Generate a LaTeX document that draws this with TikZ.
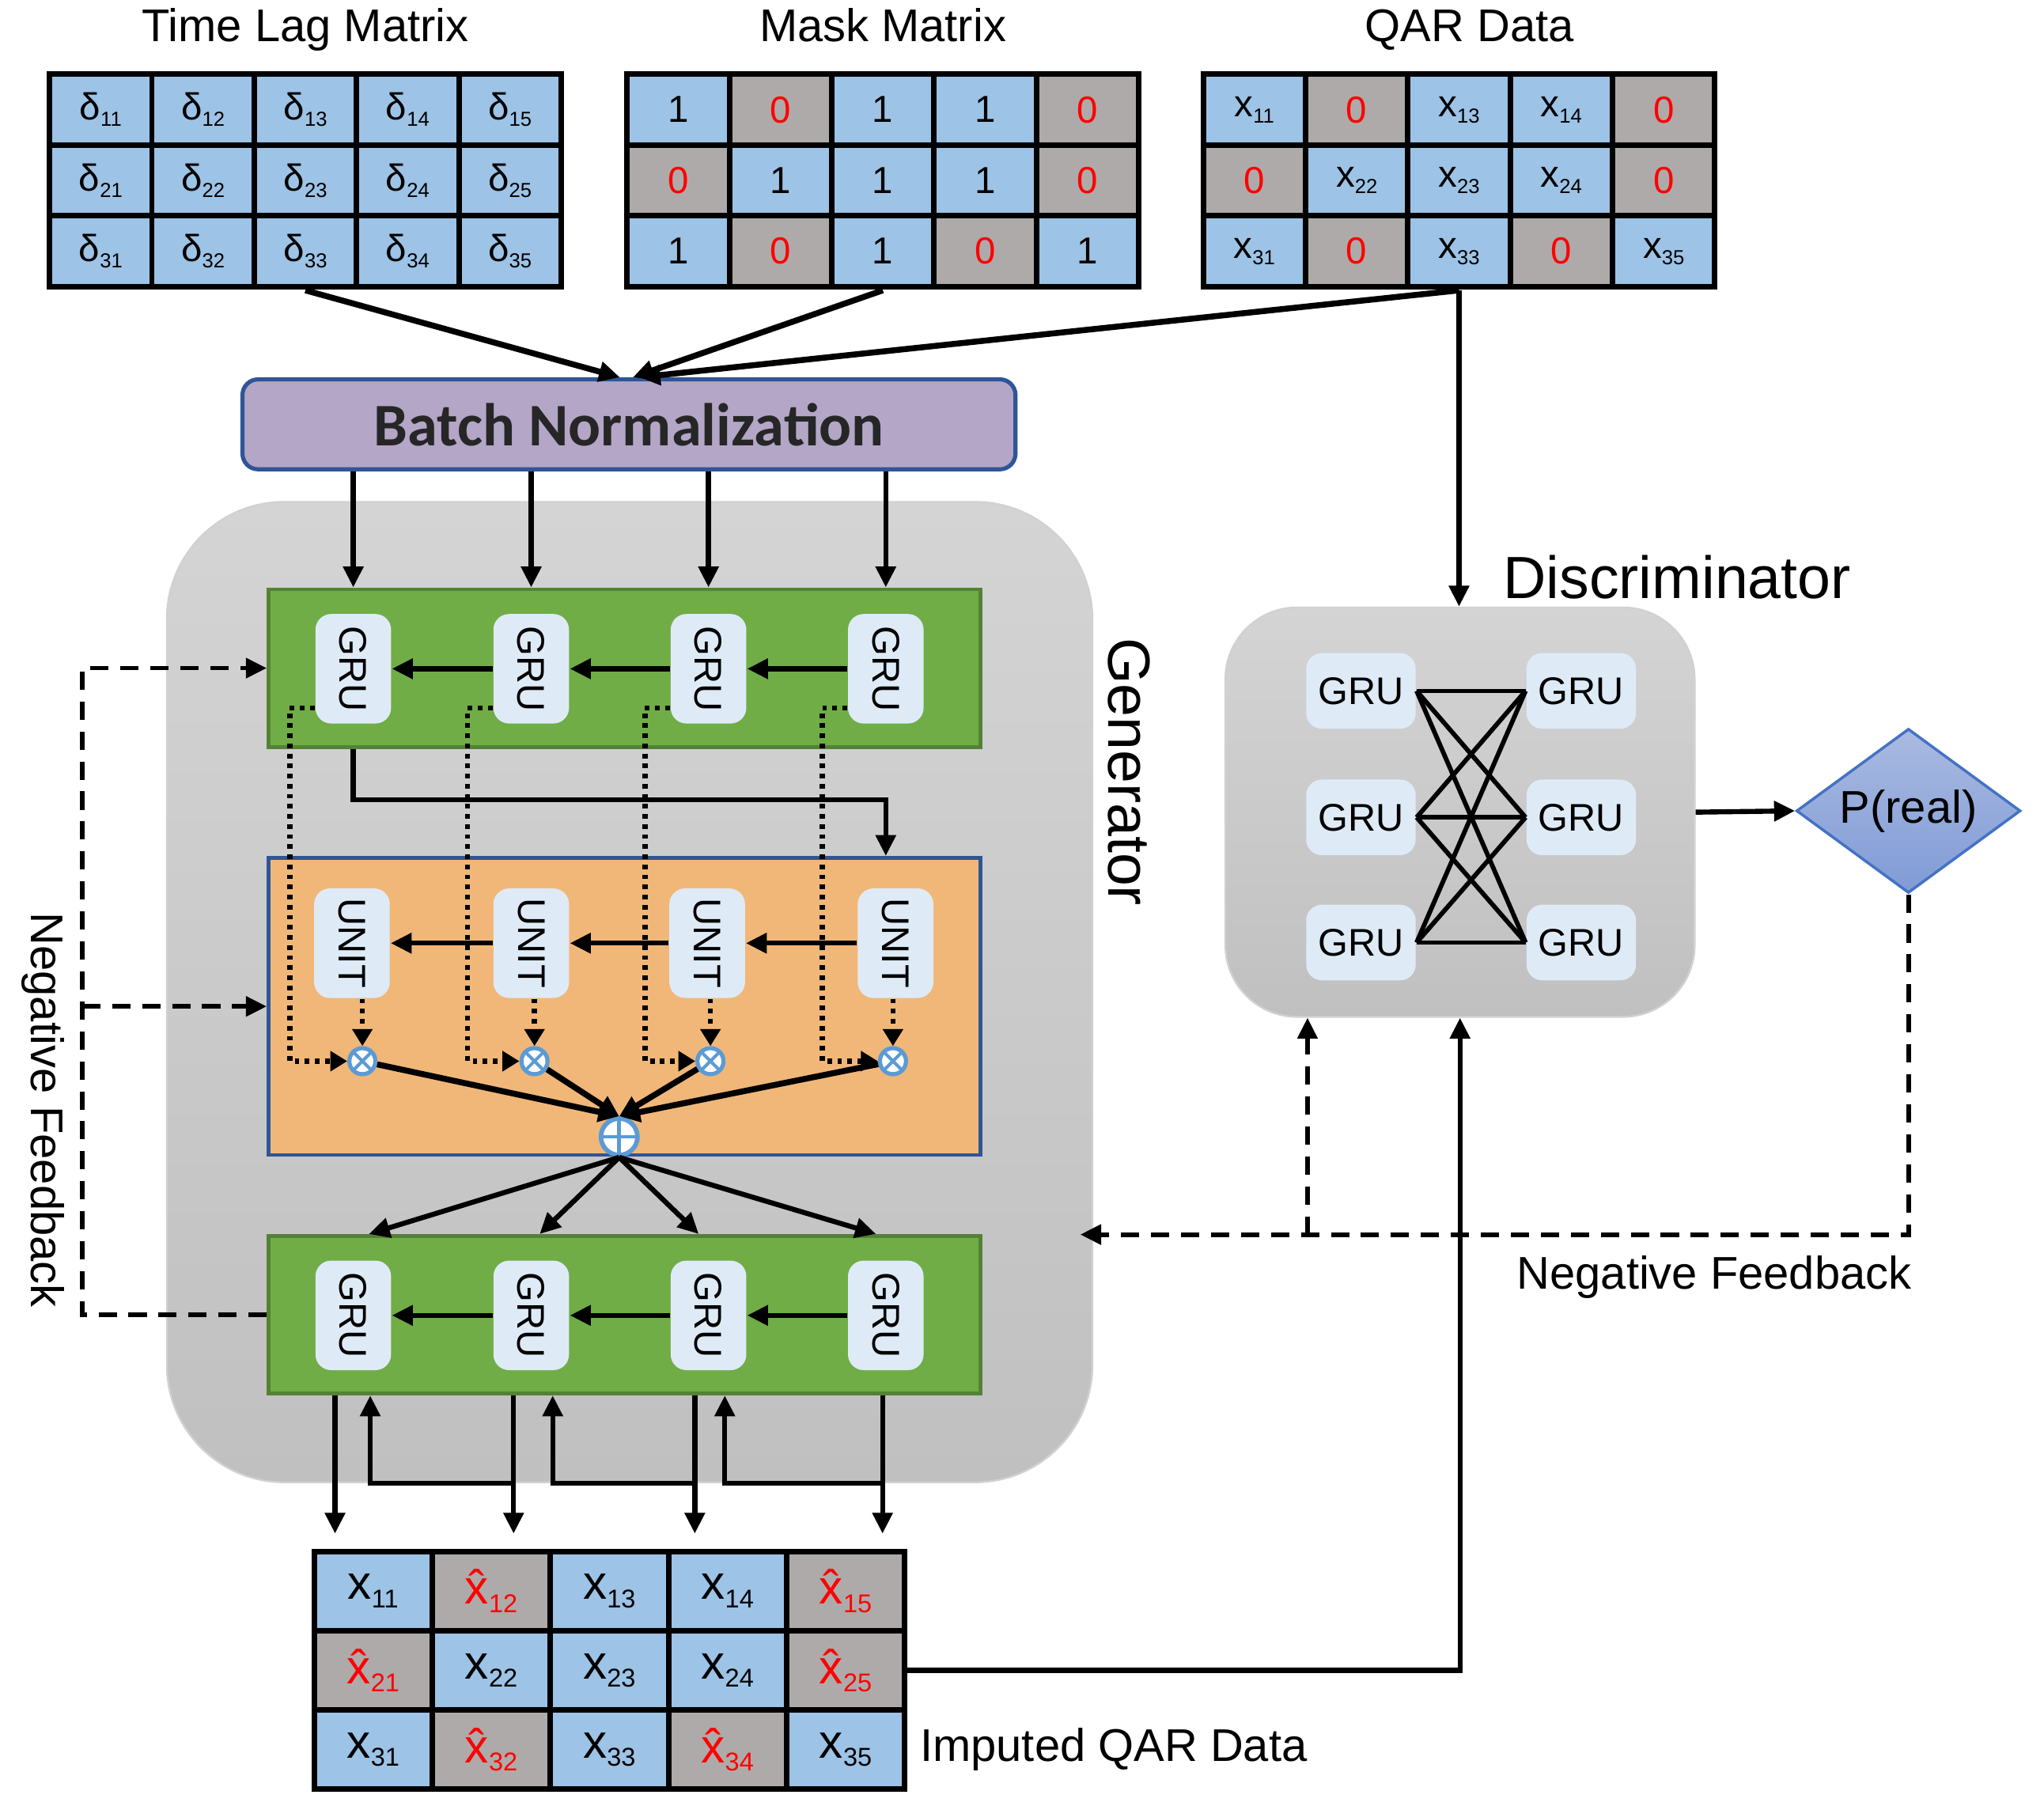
\documentclass[tikz,border=0pt]{standalone}
\usepackage{fontspec}
\setmainfont{Liberation Sans}
\newfontfamily\calfont{Carlito}
\usepackage{tikz}
\usetikzlibrary{shapes.geometric, arrows.meta, positioning, fit}
\definecolor{cBlue}{RGB}{157,195,230}
\definecolor{cGray}{RGB}{174,170,170}
\definecolor{cGru}{RGB}{222,235,247}
\definecolor{cGreen}{RGB}{112,173,71}
\definecolor{cGreenDk}{RGB}{84,130,53}
\definecolor{cOrange}{RGB}{241,183,120}
\definecolor{cFrame}{RGB}{47,85,151}
\definecolor{cBN}{RGB}{180,166,198}
\definecolor{cOp}{RGB}{91,155,213}
\definecolor{cGenTop}{RGB}{212,212,212}
\definecolor{cGenBot}{RGB}{192,192,192}
\definecolor{cPTop}{RGB}{170,186,225}
\definecolor{cPBot}{RGB}{128,155,214}
\definecolor{cPEdge}{RGB}{68,114,196}
\newcommand{\cellsub}[1]{\raisebox{-0.17em}{\scalebox{0.54}{#1}}}
\tikzset{
	cell/.style    ={rectangle, draw=black, line width=1.2pt, minimum width=0.785cm, minimum height=0.543cm, inner sep=0pt, font=\fontsize{8.2}{8.2}\selectfont},
	bigcell/.style ={cell, minimum width=0.906cm, minimum height=0.608cm, font=\fontsize{10.4}{10.4}\selectfont},
	st1/.style     ={fill=cBlue},
	st0/.style     ={fill=cGray, text=red},
	title/.style   ={font=\fontsize{10}{12}\selectfont, inner sep=0pt, text height=0.75em, text depth=0.25em},
	bigtitle/.style={font=\fontsize{13}{15}\selectfont, inner sep=0pt},
	bnorm/.style   ={rectangle, rounded corners=1.2mm, draw=cFrame, line width=0.9pt, fill=cBN, minimum width=5.93cm, minimum height=0.69cm, font=\calfont\bfseries\fontsize{13.2}{13.2}\selectfont, text=black!85},
	genbox/.style  ={rectangle, draw=black!18, top color=cGenTop, bottom color=cGenBot},
	grubar/.style  ={rectangle, draw=cGreenDk, line width=0.8pt, fill=cGreen, minimum width=5.46cm, minimum height=1.21cm},
	unitbar/.style ={rectangle, draw=cFrame, line width=0.8pt, fill=cOrange, minimum width=5.46cm, minimum height=2.28cm},
	vbox/.style    ={rectangle, rounded corners=1.2mm, fill=cGru, minimum width=0.58cm, minimum height=0.84cm, inner sep=0pt, font=\fontsize{8.4}{8.4}\selectfont},
	hbox/.style    ={vbox, minimum width=0.84cm, minimum height=0.58cm},
	mul/.style     ={circle, draw=cOp, line width=0.9pt, fill=white, minimum size=0.2cm, inner sep=0pt,
	                 path picture={\draw[cOp, line width=0.7pt] (path picture bounding box.north west) -- (path picture bounding box.south east) (path picture bounding box.north east) -- (path picture bounding box.south west);}},
	addop/.style   ={circle, draw=cOp, line width=1pt, fill=white, minimum size=0.28cm, inner sep=0pt,
	                 path picture={\draw[cOp, line width=0.8pt] (path picture bounding box.north) -- (path picture bounding box.south) (path picture bounding box.west) -- (path picture bounding box.east);}},
	pnode/.style   ={diamond, aspect=1.37, draw=cPEdge, line width=0.6pt, top color=cPTop, bottom color=cPBot, minimum width=1.72cm, minimum height=1.26cm, inner sep=0pt, font=\fontsize{10}{10}\selectfont},
	sig/.style     ={-{Triangle[length=1.6mm, width=1.5mm]}, line width=1.1pt},
	dots/.style    ={-{Triangle[length=1.3mm, width=1.5mm]}, line width=1.1pt, dash pattern=on 1pt off 1.2pt},
	fb/.style      ={-{Triangle[length=1.6mm, width=1.5mm]}, line width=1pt, dash pattern=on 1.4mm off 0.9mm},
	link/.style    ={line width=1pt},
}
\begin{document}
\begin{tikzpicture}
	\useasboundingbox (0,0) rectangle (15.68,13.85);
	% input matrices
	\foreach \row [count=\r] in {{1,0,1,1,0},{0,1,1,1,0},{1,0,1,0,1}}{
		\foreach \m [count=\c] in \row {
			\node[cell, st1] (tl-\r-\c) at ({0.38+(\c-0.5)*0.785},{13.28-(\r-0.5)*0.543}) {δ\cellsub{\r\c}};
			\node[cell, st\m] (mk-\r-\c) at ({4.81+(\c-0.5)*0.785},{13.28-(\r-0.5)*0.543}) {\m};
			\node[cell, st\m] (qr-\r-\c) at ({9.23+(\c-0.5)*0.785},{13.28-(\r-0.5)*0.543}) {\ifnum\m=1 x\cellsub{\r\c}\else 0\fi};
			\node[bigcell, st\m] (im-\r-\c) at ({2.41+(\c-0.5)*0.906},{1.95-(\r-0.5)*0.608}) {\ifnum\m=1 x\else\^{x}\fi\cellsub{\r\c}};
		}
	}
	\node[fit=(tl-1-1)(tl-3-5), inner sep=0pt] (tl) {};
	\node[fit=(mk-1-1)(mk-3-5), inner sep=0pt] (mk) {};
	\node[fit=(qr-1-1)(qr-3-5), inner sep=0pt] (qr) {};
	\node[title, above=0.13cm of tl] {Time Lag Matrix};
	\node[title, above=0.13cm of mk] {Mask Matrix};
	\node[title, above=0.13cm of qr, xshift=0.08cm] {QAR Data};
	\node[title, right=0.09cm of im-3-5] {Imputed QAR Data};

	\node[bnorm] (bn) at (4.825,10.595) {Batch Normalization};
	\draw[sig, line width=1.3pt] (tl.south) -- ([xshift=-0.07cm]bn.north);
	\draw[sig, line width=1.3pt] (mk.south) -- ([xshift=0.03cm]bn.north);
	\draw[sig, line width=1.3pt] (qr.south) -- ([xshift=0.08cm]bn.north);

	% generator
	\node[genbox, rounded corners=0.9cm, minimum width=7.1cm, minimum height=7.52cm] (gen) at (4.83,6.24) {};
	\node[bigtitle, rotate=-90] at (8.66,7.93) {Generator};
	\node[grubar] (gb1) at (4.79,8.725) {};
	\node[unitbar] (ob) at (4.79,6.13) {};
	\node[grubar] (gb3) at (4.79,3.765) {};
	\foreach \i/\x/\ux/\mx in {1/2.71/2.70/2.78, 2/4.075/4.075/4.10, 3/5.435/5.425/5.45, 4/6.795/6.87/6.85}{
		\node[vbox] (ga\i) at (\x,8.72) {\rotatebox{-90}{GRU}};
		\node[vbox] (un\i) at (\ux,6.615) {\rotatebox{-90}{UNIT}};
		\node[vbox] (gc\i) at (\x,3.76) {\rotatebox{-90}{GRU}};
		\node[mul] (mx\i) at (\mx,5.71) {};
		\draw[sig] (ga\i |- bn.south) -- (ga\i |- gb1.north);
	}
	\node[addop] (plus) at (4.75,5.13) {};
	\foreach \i/\j in {1/2, 2/3, 3/4}{
		\draw[sig] (ga\j) -- (ga\i);
		\draw[sig] (un\j) -- (un\i);
		\draw[sig] (gc\j) -- (gc\i);
	}
	\draw[sig] (ga1.south |- gb1.south) -- ++(0,-0.39) -| (ga4.south |- ob.north);
	\foreach \i in {1,...,4}{
		\draw[dots] ([yshift=-0.3cm]ga\i.west) -- ++(-0.19,0) |- (mx\i.west);
		\draw[dots] (mx\i |- un\i.south) -- (mx\i.north);
		\draw[sig, line width=1.3pt] (mx\i) -- (plus.north);
	}
	\foreach \i/\dx in {1/0.12, 2/0.065, 3/-0.075, 4/-0.075}
		\draw[sig] (plus.south) -- ([xshift=\dx cm]gc\i |- gb3.north);

	% output of the generator
	\foreach \i/\dx in {1/-0.14, 2/-0.135, 3/-0.105, 4/-0.025}
		\draw[sig] ([xshift=\dx cm]gc\i |- gb3.south) -- ++(0,-1.06);
	\foreach \i/\ux/\j/\dx in {1/0.13/2/-0.135, 2/0.165/3/-0.105, 3/0.125/4/-0.025}
		\draw[sig] ([xshift=\dx cm]gc\j |- gen.south) -| ([xshift=\ux cm]gc\i |- gb3.south);

	% discriminator
	\node[genbox, rounded corners=0.55cm, minimum width=3.6cm, minimum height=3.14cm] (disc) at (11.2,7.62) {};
	\node[bigtitle] at (12.865,9.42) {Discriminator};
	\foreach \a/\y in {1/8.55, 2/7.58, 3/6.62}{
		\node[hbox] (dl\a) at (10.44,\y) {GRU};
		\node[hbox] (dr\a) at (12.13,\y) {GRU};
	}
	\foreach \a in {1,2,3}
		\foreach \b in {1,2,3}
			\draw[link] (dl\a.east) -- (dr\b.west);
	\node[pnode] (pr) at (14.64,7.63) {P(real)};
	\draw[sig] (disc.east) -- (pr.west);
	\draw[sig] (qr.south) -- (qr.south |- disc.north);
	\draw[sig] (im-2-5.east) -| (disc.south);

	% negative feedback
	\coordinate (fbr) at (14.64,4.38);
	\coordinate (fbd) at (10.03,4.38);
	\coordinate (fbl) at (0.63,6.13);
	\draw[fb] (pr.south) -- (fbr) -- ([xshift=-0.1cm]gen.east |- fbr);
	\draw[fb] (fbd) -- (fbd |- disc.south);
	\node[title] at (13.15,4.05) {Negative Feedback};
	\draw[fb] (gb3.west) -| (fbl) |- (gb1.west);
	\draw[fb] (fbl) -- (ob.west);
	\node[title, rotate=-90] at (0.33,5.335) {Negative Feedback};
\end{tikzpicture}
\end{document}
